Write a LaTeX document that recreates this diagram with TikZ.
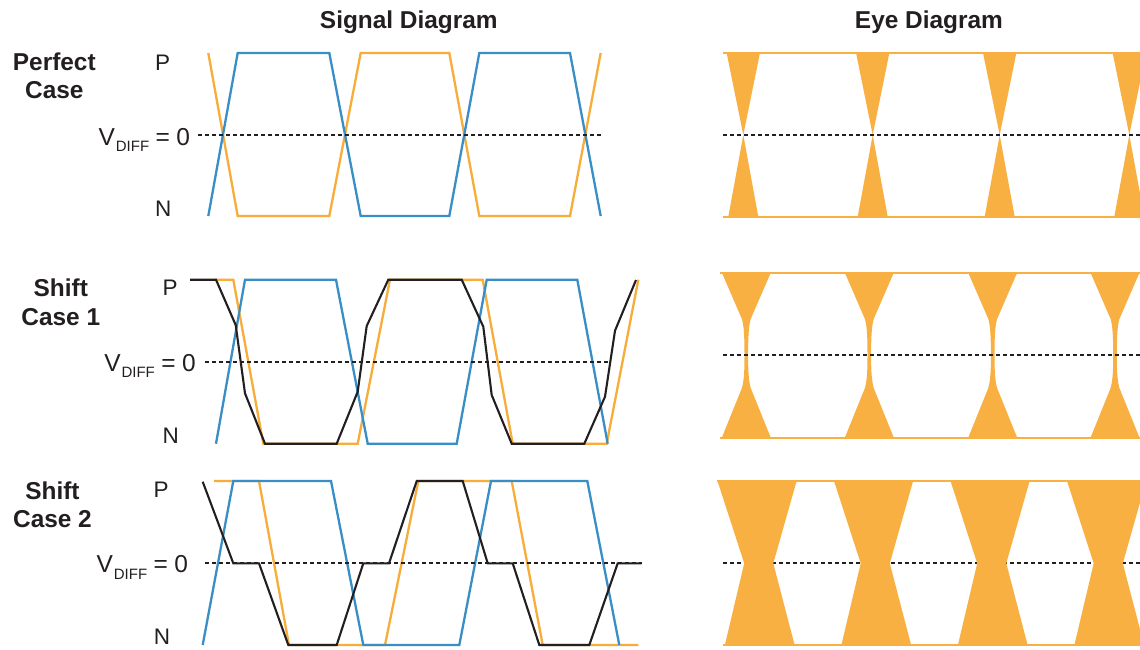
\documentclass[tikz,border=0pt]{standalone}
\usepackage{fontspec}
\setmainfont{Liberation Sans}
\usetikzlibrary{calc}
\definecolor{sigorange}{RGB}{248,172,58}
\definecolor{sigblue}{RGB}{58,142,198}
\definecolor{sigblack}{RGB}{35,31,32}
\definecolor{eyeorange}{RGB}{249,176,67}
\tikzset{
  orangetrace/.style={draw=sigorange, line width=2.3pt, line join=miter},
  bluetrace/.style={draw=sigblue, line width=2.3pt, line join=miter},
  blacktrace/.style={draw=sigblack, line width=2.1pt, line join=miter},
  zeroline/.style={draw=sigblack, line width=2pt, dash pattern=on 4pt off 3pt},
  eyefill/.style={fill=eyeorange, draw=none},
  eyeedge/.style={draw=eyeorange, line width=2pt},
  titletext/.style={inner sep=0pt, anchor=base, text=sigblack, font=\bfseries\fontsize{24.4}{28.3}\selectfont},
  caselabel/.style={inner sep=0pt, anchor=base, align=center, text=sigblack, font=\bfseries\fontsize{24.4}{28.3}\selectfont},
  levellabel/.style={inner sep=0pt, anchor=base, text=sigblack, font=\fontsize{22.5}{24}\selectfont},
  vdifflabel/.style={inner sep=0pt, anchor=base east, text=sigblack, font=\fontsize{24.5}{26}\selectfont}
}
\newcommand{\vdifftext}{V\kern0.8pt\raisebox{-6.7pt}{\fontsize{15}{15}\selectfont DIFF}\kern6.5pt=\kern6.5pt0}
\begin{document}
\begin{tikzpicture}[x=1pt,y=-1pt]
\useasboundingbox (0,0) rectangle (1140,649);
\fill[white] (0,0) rectangle (1140,649);

% ---------- titles ----------
\node[titletext] (sigtitle) at (408.8,28) {Signal Diagram};
\node[titletext] (eyetitle) at (928.9,28) {Eye Diagram};

% ---------- row labels (base = last line) ----------
\node[caselabel] (perfect) at (54.3,98.3) {Perfect\\Case};
\node[caselabel] (shift1) at (60.8,325) {Shift\\Case 1};
\node[caselabel] (shift2) at (52.5,527.3) {Shift\\Case 2};

\node[levellabel] (p1) at (162.6,70) {P};
\node[levellabel] (n1) at (163.3,216) {N};
\node[vdifflabel] (v1) at (190.3,145) {\vdifftext};

\node[levellabel] (p2) at (170.2,295.7) {P};
\node[levellabel] (n2) at (170.8,443.3) {N};
\node[vdifflabel] (v2) at (196,371) {\vdifftext};

\node[levellabel] (p3) at (161.2,497.3) {P};
\node[levellabel] (n3) at (162,644.3) {N};
\node[vdifflabel] (v3) at (188.3,572.3) {\vdifftext};

% ---------- signal: perfect case ----------
\draw[orangetrace] (208.3,53) -- (237.7,216) -- (329.3,216) -- (360.7,53) -- (449.3,53) -- (479.3,216) -- (570,216) -- (600.7,53);
\draw[bluetrace] (208.3,216) -- (237.7,53) -- (329.3,53) -- (360.7,216) -- (449.3,216) -- (479.3,53) -- (570,53) -- (600.7,216);
\draw[zeroline] (198,135) -- (601.7,135);

% ---------- signal: shift case 1 ----------
\draw[orangetrace] (215,279.7) -- (233.3,279.7) -- (263.3,443.7) -- (357.7,443.7) -- (390,279.7) -- (482.7,279.7) -- (512.7,443.7) -- (606.7,443.7) -- (638.3,279.7);
\draw[bluetrace] (216,443.7) -- (245,279.7) -- (336,279.7) -- (367.7,443.7) -- (456.7,443.7) -- (486.7,279.7) -- (577.3,279.7) -- (607.7,443.7);
\draw[blacktrace] (190,279.7) -- (216,279.7) -- (235.7,325) -- (245,393.3) -- (265,443.7) -- (336.7,443.7) -- (357.7,391.7) -- (366.7,326) -- (388.3,279.7) -- (461.7,279.7) -- (483.3,326.7) -- (491.7,395) -- (511.7,443.7) -- (584.3,443.7) -- (605,396.7) -- (615,330.7) -- (636,280);
\draw[zeroline] (205,361.7) -- (608.3,361.7);

% ---------- signal: shift case 2 ----------
\draw[orangetrace] (214,481) -- (259,481) -- (289,645) -- (385,645) -- (418.3,481) -- (511.7,481) -- (542.7,645) -- (638.3,645);
\draw[bluetrace] (202.7,645) -- (233.3,481) -- (331,481) -- (363.3,645) -- (459.3,645) -- (491,481) -- (587.3,481) -- (619.3,645);
\draw[zeroline] (205,563.3) -- (641.7,563.3);
\draw[blacktrace] (202.7,481.7) -- (233.3,563.3) -- (259,563.3) -- (288.3,645) -- (336.7,645) -- (363.3,563.3) -- (389,563.3) -- (416.7,481) -- (462.7,481) -- (487.7,563.3) -- (512.7,563.3) -- (539.3,645) -- (589.3,645) -- (617.7,563.3) -- (641.7,563.3);

% ---------- eye: perfect case ----------
\begin{scope}
\clip (700,40) rectangle (1140,230);
\foreach \c in {743.3,872.7,999.7,1129.3}{
  \fill[eyeorange] (\c-16.7,52.7) -- (\c+16.7,52.7) -- (\c,135) -- cycle;
  \fill[eyeorange] (\c-15,216.7) -- (\c+15,216.7) -- (\c,135) -- cycle;
}
\end{scope}
\draw[eyeedge] (723,52.7) -- (1140,52.7);
\draw[eyeedge] (723,216.7) -- (1140,216.7);
\draw[zeroline] (723,135) -- (1140,135);

% ---------- eye: shift case 1 ----------
\begin{scope}
\clip (700,260) rectangle (1140,450);
\foreach \c in {746.3,869.3,992.7,1115}{
  \fill[eyeorange] (\c-24.2,273.3) -- (\c+24.2,273.3) -- (\c+4.4,319)
     .. controls (\c+2.2,326) and (\c+1.8,340) .. (\c+1.8,355)
     .. controls (\c+1.8,370) and (\c+2.2,380) .. (\c+4.4,388)
     -- (\c+24.5,437.7) -- (\c-24.5,437.7) -- (\c-4.4,388)
     .. controls (\c-2.2,380) and (\c-1.8,370) .. (\c-1.8,355)
     .. controls (\c-1.8,340) and (\c-2.2,326) .. (\c-4.4,319) -- cycle;
}
\end{scope}
\draw[eyeedge] (720,273.3) -- (1140,273.3);
\draw[eyeedge] (720,437.7) -- (1140,437.7);
\draw[zeroline] (723,355) -- (1140,355);

% ---------- eye: shift case 2 ----------
\draw[zeroline] (723,563.3) -- (1140,563.3);
\begin{scope}
\clip (700,470) rectangle (1140,655);
\foreach \a in {700.5,817,933.5,1050}{
  \pgfmathsetmacro{\b}{\a+116.5}
  \fill[eyeorange] (\a+17,481) -- (\b-20.4,481) -- (\b-43.7,563.3) -- (\b-22.4,645) -- (\a+24.4,645) -- (\a+43.7,563.3) -- cycle;
}
\end{scope}
\draw[eyeedge] (717,480.7) -- (1140,480.7);
\draw[eyeedge] (723,645) -- (1140,645);
\end{tikzpicture}
\end{document}
